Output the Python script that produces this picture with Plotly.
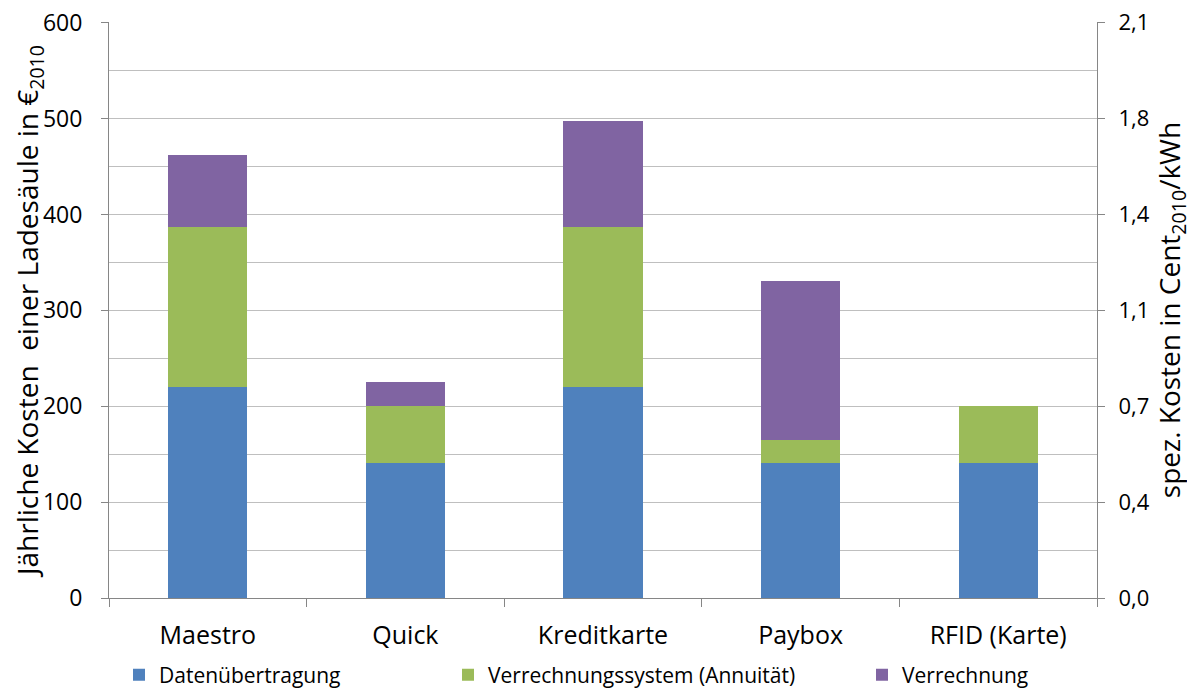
import plotly.graph_objects as go

categories = ["Maestro", "Quick", "Kreditkarte", "Paybox", "RFID (Karte)"]
datenuebertragung = [220, 141, 220, 141, 141]
verrechnungssystem = [167, 59, 167, 24, 59]
verrechnung = [75, 25, 111, 166, 0]

left_ticks = [0, 100, 200, 300, 400, 500, 600]
right_tickvals = [0, 0.35, 0.7, 1.05, 1.4, 1.75, 2.1]
right_ticktext = ["0,0", "0,4", "0,7", "1,1", "1,4", "1,8", "2,1"]

series = [
    ("Datenübertragung", datenuebertragung, "#4F81BD", "legend"),
    ("Verrechnungssystem (Annuität)", verrechnungssystem, "#9BBB59", "legend2"),
    ("Verrechnung", verrechnung, "#8064A2", "legend3"),
]

FONT = "'Open Sans', sans-serif"
# page body has an 8px margin, so the figure is shrunk and shifted accordingly
OFF = 8
W, H = 1195 - OFF, 688 - OFF
L, T = 109 - OFF, 22 - OFF
R, B = W - (1097 - OFF), H - (598 - OFF)

YMAX = 600.8
fig = go.Figure()
for name, vals, col, lg in series:
    fig.add_trace(go.Bar(x=categories, y=vals, name=name, marker=dict(color=col, line=dict(width=0)),
                         legend=lg, width=0.4))

fig.add_trace(go.Scatter(x=[categories[0]], y=[0], yaxis="y2", mode="markers",
                         marker=dict(opacity=0), showlegend=False, hoverinfo="skip"))

axis_gray = "#868686"
grid_gray = "#BFBFBF"
fig.update_layout(
    barmode="stack",
    width=W, height=H,
    margin=dict(l=L, r=R, t=T, b=B, autoexpand=False),
    plot_bgcolor="white", paper_bgcolor="white",
    font=dict(family=FONT, color="black"),
    xaxis=dict(type="category", showline=True, linecolor=axis_gray, linewidth=1,
               ticks="outside", tickson="boundaries", ticklen=8, tickcolor=axis_gray,
               tickfont=dict(size=25), showgrid=False, automargin=False,
               ticklabelstandoff=15),
    yaxis=dict(range=[0, YMAX], tickvals=left_ticks, showline=True, linecolor=axis_gray,
               ticks="outside", ticklen=7, tickcolor=axis_gray, tickfont=dict(size=23),
               ticklabelstandoff=14, ticklabeloverflow="allow",
               showgrid=True, gridcolor=grid_gray, gridwidth=1, zeroline=False,
               automargin=False,
               minor=dict(dtick=50, showgrid=True, gridcolor=grid_gray, ticks=""),
               title=dict(text="Jährliche Kosten  einer Ladesäule in €<sub>2010</sub>",
                          font=dict(size=28), standoff=19)),
    yaxis2=dict(range=[0, 2.1 * YMAX / 600], overlaying="y", side="right", tickvals=right_tickvals,
                ticktext=right_ticktext, showline=True, linecolor=axis_gray,
                ticks="outside", ticklen=7, tickcolor=axis_gray, tickfont=dict(size=22),
                ticklabelstandoff=9, ticklabeloverflow="allow",
                showgrid=False, zeroline=False, automargin=False,
                title=dict(text="spez. Kosten in Cent<sub>2010</sub>/kWh",
                           font=dict(size=28), standoff=10)),
)

legend_common = dict(orientation="h", yanchor="middle", xanchor="left",
                     font=dict(size=21, family=FONT), bgcolor="rgba(0,0,0,0)",
                     itemwidth=30)
ly = -(675 - 598) / 576
fig.update_layout(
    legend=dict(x=(119 - 109) / 988, y=ly, **legend_common),
    legend2=dict(x=(448 - 109) / 988, y=ly, **legend_common),
    legend3=dict(x=(862 - 109) / 988, y=ly, **legend_common),
)

fig.write_html("out.html")
